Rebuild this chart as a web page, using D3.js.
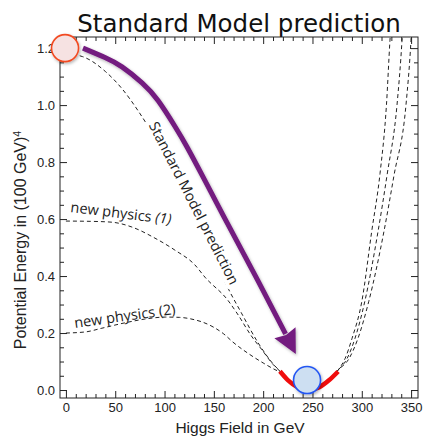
<!DOCTYPE html>
<html>
<head>
<meta charset="utf-8">
<script src="https://cdn.jsdelivr.net/npm/d3@7"></script>
<style>
  body { margin: 0; background: #fff; }
</style>
</head>
<body>
<svg id="chart" width="424" height="440"></svg>
<script>
// values: x in GeV, y in (100 GeV)^4
const xMajor = [0, 50, 100, 150, 200, 250, 300, 350];
const yMajor = [0, 0.2, 0.4, 0.6, 0.8, 1.0, 1.2];

const smCurve = [[0,1.18],[17,1.17],[40,1.118],[57,1.057],[73,0.981],[83,0.927],[100,0.822],[125,0.65],[150,0.466],
  [164,0.36],[178,0.27],[195,0.165],[210,0.092],[217,0.066],[225,0.035],[235,0.01],[246,0],
  [257,0.01],[267,0.035],[276,0.07],[287,0.11],[296,0.18],[307,0.31],[322.5,0.557],[332.7,0.754],
  [344.8,1.0],[349.9,1.228],[351,1.3]];
const np1Curve = [[0,0.593],[25,0.592],[46.7,0.589],[66.9,0.572],[90.3,0.533],[110.5,0.491],[130.8,0.439],
  [141,0.396],[164,0.316],[173.4,0.27],[188,0.19],[199,0.14],[210,0.09],[217,0.066],[225,0.035],[235,0.01],[246,0],
  [257,0.01],[267,0.035],[276,0.07],[285,0.11],[293,0.18],[303,0.31],[316.4,0.555],[325.6,0.754],
  [335.7,1.0],[340.8,1.228],[342,1.3]];
const np2Curve = [[0,0.2],[20,0.204],[36.5,0.217],[60,0.236],[80,0.249],[101,0.256],[115,0.255],[130,0.247],
  [138,0.239],[150,0.22],[160,0.197],[169.4,0.168],[185,0.128],[200,0.095],[210,0.075],[217,0.062],[225,0.035],
  [235,0.01],[246,0],[257,0.01],[267,0.035],[276,0.07],[283,0.11],[290,0.18],[300,0.31],[310,0.555],
  [318.5,0.76],[325,1.0],[328.6,1.228],[330,1.3]];
const redMin = [[217,0.066],[225,0.035],[235,0.01],[246,0],[257,0.01],[267,0.035],[276,0.065]];
const smArrow = [[17.3,1.2],[39.6,1.167],[56.9,1.134],[77.2,1.078],[93.4,1.016],[110.6,0.925],[122.8,0.853],
  [139,0.748],[159.3,0.614],[194.8,0.383],[222.7,0.197]];
const topBall = [-0.9, 1.2];
const bottomBall = [244.5, 0.035];

const svg = d3.select("#chart");
const pLeft = 60, pRight = 418, pTop = 37, pBottom = 398;

const x = d3.scaleLinear().domain([-6, 357]).range([pLeft, pRight]);
const y = d3.scaleLinear().domain([-0.028, 1.239]).range([pBottom, pTop]);

const defs = svg.append("defs");
defs.append("clipPath").attr("id", "plotclip")
  .append("rect")
  .attr("x", pLeft).attr("y", pTop)
  .attr("width", pRight - pLeft).attr("height", pBottom - pTop);

const shadow = defs.append("filter").attr("id", "shadow")
  .attr("x", "-30%").attr("y", "-30%").attr("width", "160%").attr("height", "160%");
shadow.append("feDropShadow")
  .attr("dx", 1).attr("dy", 1.5)
  .attr("stdDeviation", 1.5)
  .attr("flood-color", "#000")
  .attr("flood-opacity", 0.3);

defs.append("marker")
  .attr("id", "arrowhead")
  .attr("markerUnits", "userSpaceOnUse")
  .attr("markerWidth", 30).attr("markerHeight", 30)
  .attr("viewBox", "-2 -12 24 24")
  .attr("refX", 1).attr("refY", 0)
  .attr("orient", "auto")
  .append("path")
  .attr("d", "M0,-9.5 L19,0 L0,9.5 L2,0 Z")
  .style("fill", "#731a7f");

// title
svg.append("text")
  .attr("x", 239)
  .attr("y", 32)
  .attr("text-anchor", "middle")
  .text("Standard Model prediction")
  .style("font-family", "'DejaVu Sans', sans-serif")
  .style("font-size", "24.5px")
  .style("fill", "#111");

// ticks, all pointing into the frame
const tickStyle = g => {
  g.select(".domain").remove();
  g.selectAll(".tick line").style("stroke", "#222");
  g.selectAll(".tick text")
    .style("font-family", "'Liberation Sans', Arial, sans-serif")
    .style("font-size", "13px")
    .style("fill", "#222");
};
const xMinor = d3.range(0, 351, 10).filter(d => d % 50 !== 0);
const yMinor = d3.range(0, 1.25, 0.05).map(d => +d.toFixed(2)).filter(d => Math.round(d * 100) % 20 !== 0);

svg.append("g").attr("transform", `translate(0,${pBottom})`)
  .call(d3.axisBottom(x).tickValues(xMajor).tickSize(-7).tickPadding(5).tickFormat(d3.format("d")))
  .call(tickStyle);
svg.append("g").attr("transform", `translate(0,${pBottom})`)
  .call(d3.axisBottom(x).tickValues(xMinor).tickSize(-4).tickFormat(""))
  .call(tickStyle);
svg.append("g").attr("transform", `translate(0,${pTop})`)
  .call(d3.axisTop(x).tickValues(xMajor).tickSize(-7).tickFormat(""))
  .call(tickStyle);
svg.append("g").attr("transform", `translate(0,${pTop})`)
  .call(d3.axisTop(x).tickValues(xMinor).tickSize(-4).tickFormat(""))
  .call(tickStyle);

svg.append("g").attr("transform", `translate(${pLeft},0)`)
  .call(d3.axisLeft(y).tickValues(yMajor).tickSize(-7).tickPadding(5).tickFormat(d3.format(".1f")))
  .call(tickStyle);
svg.append("g").attr("transform", `translate(${pLeft},0)`)
  .call(d3.axisLeft(y).tickValues(yMinor).tickSize(-4).tickFormat(""))
  .call(tickStyle);
svg.append("g").attr("transform", `translate(${pRight},0)`)
  .call(d3.axisRight(y).tickValues(yMajor).tickSize(-7).tickFormat(""))
  .call(tickStyle);
svg.append("g").attr("transform", `translate(${pRight},0)`)
  .call(d3.axisRight(y).tickValues(yMinor).tickSize(-4).tickFormat(""))
  .call(tickStyle);

svg.append("rect")
  .attr("x", pLeft).attr("y", pTop)
  .attr("width", pRight - pLeft).attr("height", pBottom - pTop)
  .style("fill", "none")
  .style("stroke", "#222")
  .style("stroke-width", 1);

// axis titles
svg.append("text")
  .attr("x", 240)
  .attr("y", 433)
  .attr("text-anchor", "middle")
  .text("Higgs Field in GeV")
  .style("font-family", "'Liberation Sans', Arial, sans-serif")
  .style("font-size", "15.5px")
  .style("fill", "#222");

const ylab = svg.append("text")
  .attr("transform", "translate(26,240) rotate(-90)")
  .attr("text-anchor", "middle")
  .style("font-family", "'Liberation Sans', Arial, sans-serif")
  .style("font-size", "16px")
  .style("fill", "#222");
ylab.append("tspan").text("Potential Energy in (100 GeV)");
ylab.append("tspan").text("4").attr("dy", "-0.45em").style("font-size", "10.5px");

// curves
const line = d3.line()
  .x(d => x(d[0]))
  .y(d => y(d[1]))
  .curve(d3.curveMonotoneX);

const plot = svg.append("g").attr("clip-path", "url(#plotclip)");

[np2Curve, np1Curve, smCurve].forEach(c => {
  plot.append("path")
    .datum(c)
    .attr("d", line)
    .style("fill", "none")
    .style("stroke", "#222")
    .style("stroke-width", 1)
    .style("stroke-dasharray", "4,3");
});

const annoFont = "'Open Sans', 'Noto Sans', sans-serif";

// label along the purple arrow, white box hides the dashed curve under it
const smLabelPos = [129.8, 0.656];
const smLabel = plot.append("g")
  .attr("transform", `translate(${x(smLabelPos[0])},${y(smLabelPos[1])}) rotate(63)`);
const smText = smLabel.append("text")
  .attr("text-anchor", "middle")
  .attr("dy", "0.35em")
  .text("Standard Model prediction")
  .style("font-family", annoFont)
  .style("font-size", "14.5px")
  .style("fill", "#222");
const bb = smText.node().getBBox();
smLabel.insert("rect", "text")
  .attr("x", bb.x - 2).attr("y", bb.y + 1)
  .attr("width", bb.width + 4).attr("height", bb.height - 1)
  .style("fill", "#fff");

const np1Label = svg.append("text")
  .attr("transform", `translate(${x(4.2)},${y(0.625)}) rotate(7)`)
  .style("font-family", annoFont)
  .style("font-size", "14.5px")
  .style("fill", "#222");
np1Label.append("tspan").text("new physics ");
np1Label.append("tspan").text("(1)").style("font-style", "italic");

const np2Label = svg.append("text")
  .attr("transform", `translate(${x(9.2)},${y(0.2175)}) rotate(-8)`)
  .style("font-family", annoFont)
  .style("font-size", "14.5px")
  .style("fill", "#222");
np2Label.append("tspan").text("new physics ");
np2Label.append("tspan").text("(2)");

// red piece at the minimum
plot.append("path")
  .datum(redMin)
  .attr("d", line)
  .style("fill", "none")
  .style("stroke", "#f00d0d")
  .style("stroke-width", 4.5);

// purple arrow
svg.append("path")
  .datum(smArrow)
  .attr("d", line.curve(d3.curveNatural))
  .attr("marker-end", "url(#arrowhead)")
  .attr("filter", "url(#shadow)")
  .style("fill", "none")
  .style("stroke", "#731a7f")
  .style("stroke-width", 5)
  .style("stroke-linecap", "butt");

// balls
svg.append("circle")
  .attr("cx", x(topBall[0])).attr("cy", y(topBall[1]))
  .attr("r", 13.5)
  .attr("filter", "url(#shadow)")
  .style("fill", "#f6e2e2")
  .style("stroke", "#f24a20")
  .style("stroke-width", 1.6);

svg.append("circle")
  .attr("cx", x(bottomBall[0])).attr("cy", y(bottomBall[1]))
  .attr("r", 13.5)
  .attr("filter", "url(#shadow)")
  .style("fill", "#cddff2")
  .style("stroke", "#2456f2")
  .style("stroke-width", 1.6);
</script>
</body>
</html>
